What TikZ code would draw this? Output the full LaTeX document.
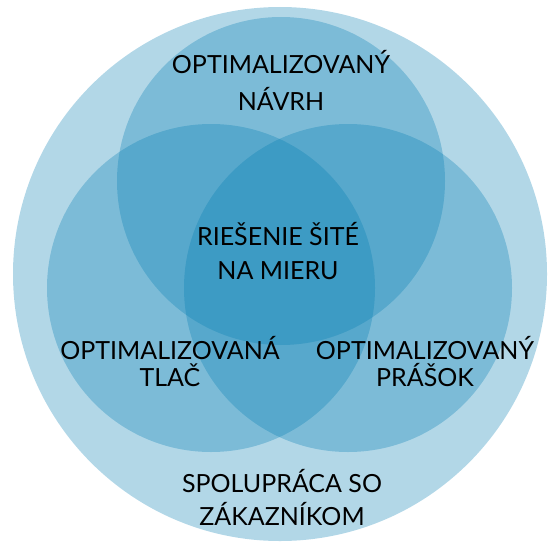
\documentclass[tikz,border=0pt]{standalone}
\usepackage{fontspec}
\setmainfont{Lato}
\definecolor{vennblue}{RGB}{0,123,177}
\tikzset{
  ring/.style={fill=vennblue, fill opacity=0.3},
  lbl/.style={align=center, text=black, font=\fontsize{25}{34}\selectfont}
}
\begin{document}
\begin{tikzpicture}[x=1pt, y=-1pt]
    \useasboundingbox (0,0) rectangle (548,543);

    % Draw the outer circle
    \fill[ring] (280,274) circle (267);

    % Draw the three inner circles
    \fill[ring] (281,181) circle (164);
    \fill[ring] (211,288) circle (164);
    \fill[ring] (348,288) circle (164);

    % Label the circles
    \node[lbl, font=\fontsize{25}{37}\selectfont] (design) at (281,80) {OPTIMALIZOVANÝ\\NÁVRH};
    \node[lbl] (core) at (278,251) {RIEŠENIE ŠITÉ\\NA MIERU};
    \node[lbl, font=\fontsize{25}{27}\selectfont] (print) at (170,362) {OPTIMALIZOVANÁ\\TLAČ};
    \node[lbl, font=\fontsize{25}{27}\selectfont] (powder) at (425,362) {OPTIMALIZOVANÝ\\PRÁŠOK};
    \node[lbl, font=\fontsize{25}{33}\selectfont] (client) at (282,498) {SPOLUPRÁCA SO\\ZÁKAZNÍKOM};
\end{tikzpicture}
\end{document}
